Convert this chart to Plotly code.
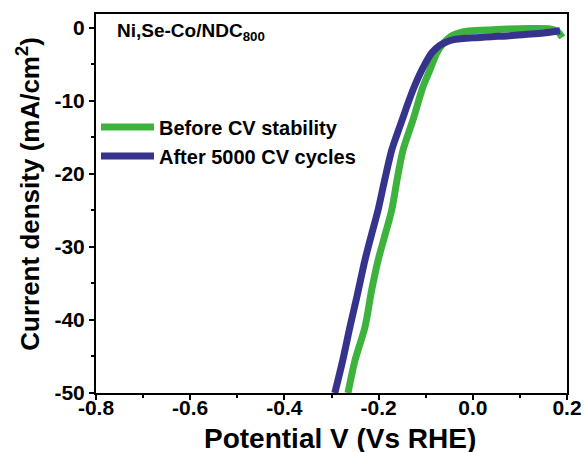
import plotly.graph_objects as go

# Data (potential V vs RHE, current density mA/cm2)
before_v = [-0.265, -0.250, -0.229, -0.215, -0.201, -0.187, -0.172, -0.160, -0.148,
            -0.127, -0.106, -0.091, -0.076, -0.065, -0.055, -0.042, -0.025, -0.012,
            0.030, 0.073, 0.120, 0.164, 0.180, 0.190]
before_j = [-50, -45.5, -41, -36, -31.8, -28.5, -24.9, -20.5, -16.7,
            -12.6, -8.1, -5.75, -3.4, -2.3, -1.6, -1.0, -0.6, -0.45,
            -0.3, -0.15, -0.1, -0.15, -0.5, -1.3]

after_v = [-0.293, -0.276, -0.261, -0.245, -0.229, -0.215, -0.201, -0.187, -0.172,
           -0.161, -0.150, -0.1375, -0.1245, -0.108, -0.087, -0.070, -0.055, -0.040,
           -0.027, 0.000, 0.040, 0.073, 0.110, 0.150, 0.185]
after_j = [-50, -45.5, -41, -36.5, -31.8, -28.3, -24.9, -20.8, -16.7,
           -14.6, -12.6, -10.3, -8.1, -5.75, -3.4, -2.4, -1.9, -1.6,
           -1.5, -1.35, -1.2, -1.1, -0.9, -0.7, -0.4]

series_names = ["Before CV stability", "After 5000 CV cycles"]
series_colors = ["#3db33d", "#35338c"]

x_tickvals = [-0.8, -0.6, -0.4, -0.2, 0.0, 0.2]
x_ticktext = ["-0.8", "-0.6", "-0.4", "-0.2", "0.0", "0.2"]
y_tickvals = [0, -10, -20, -30, -40, -50]
y_ticktext = ["0", "-10", "-20", "-30", "-40", "-50"]

FONT = "Liberation Sans, Arial, sans-serif"

fig = go.Figure()
fig.add_trace(go.Scatter(x=before_v, y=before_j, mode="lines", name=series_names[0],
                         line=dict(color=series_colors[0], width=7, shape="spline", smoothing=0.8)))
fig.add_trace(go.Scatter(x=after_v, y=after_j, mode="lines", name=series_names[1],
                         line=dict(color=series_colors[1], width=7, shape="spline", smoothing=0.8)))

axis_common = dict(
    showline=True, linecolor="black", linewidth=2, mirror=True,
    ticks="outside", ticklen=5, tickwidth=2, tickcolor="black",
    showgrid=False, zeroline=False, automargin=False,
    tickfont=dict(family=FONT, size=21, color="black", weight="bold"),
)

fig.update_xaxes(
    range=[-0.8, 0.2], tickmode="array", tickvals=x_tickvals, ticktext=x_ticktext,
    ticklabelstandoff=-10,
    minor=dict(dtick=0.1, tick0=0, ticks="outside", ticklen=3, tickwidth=2, tickcolor="black"),
    **axis_common,
)
fig.update_yaxes(
    range=[-50, 1.9], tickmode="array", tickvals=y_tickvals, ticktext=y_ticktext,
    minor=dict(dtick=5, tick0=0, ticks="outside", ticklen=3, tickwidth=2, tickcolor="black"),
    **axis_common,
)

fig.add_annotation(
    text="Current density (mA/cm<sup>2</sup>)", xref="paper", yref="paper",
    x=-0.145, y=0.525, xanchor="center", yanchor="middle", textangle=-90, showarrow=False,
    font=dict(family=FONT, size=26, color="black", weight="bold"),
)

fig.add_annotation(
    text="Potential V (Vs RHE)", xref="paper", yref="paper",
    x=0.518, y=-0.119, xanchor="center", yanchor="middle", showarrow=False,
    font=dict(family=FONT, size=28, color="black", weight="bold"),
)

fig.add_annotation(
    text="Ni,Se-Co/NDC<sub>800</sub>", xref="paper", yref="paper",
    x=0.04, y=0.99, xanchor="left", yanchor="top", showarrow=False,
    font=dict(family=FONT, size=19, color="black", weight="bold"),
)

fig.update_layout(
    width=586, height=452,
    margin=dict(l=96, r=19, t=14, b=59),
    paper_bgcolor="white", plot_bgcolor="white",
    showlegend=True,
    legend=dict(x=0.0, y=0.753, xanchor="left", yanchor="top",
                bgcolor="rgba(0,0,0,0)", itemwidth=53, tracegroupgap=0,
                font=dict(family=FONT, size=20, color="black", weight="bold")),
)

fig.write_html("out.html")
